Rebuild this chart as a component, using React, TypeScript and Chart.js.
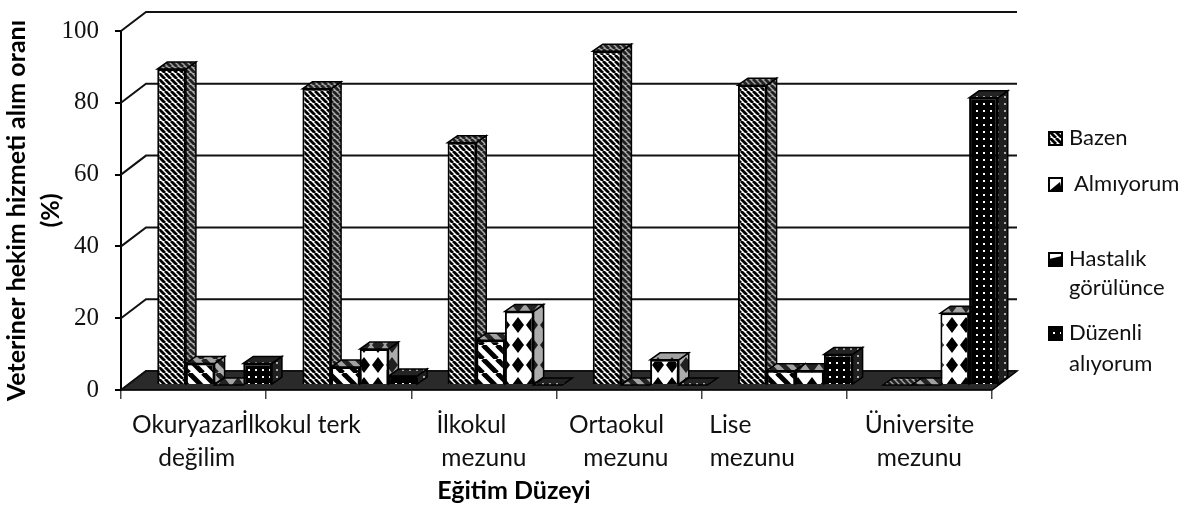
import React, { useEffect, useRef } from "react";
import { Chart, registerables } from "chart.js";

Chart.register(...registerables);

const categories: string[][] = [
  ["Okuryazar", "değilim"],
  ["İlkokul terk"],
  ["İlkokul", "mezunu"],
  ["Ortaokul", "mezunu"],
  ["Lise", "mezunu"],
  ["Üniversite", "mezunu"],
];
// no-break spaces per label line (trailing if positive, leading if negative), matching the off-centre word wrap of the source
const tickPadding: number[][] = [[2, -1], [12, 0], [4, 0], [4, 1], [14, 7], [0, 0]];

const bazen = [88, 82.5, 67.5, 93, 83.5, 0];
const almiyorum = [6, 5, 12.5, 0, 4, 0];
const hastalik = [0, 10, 20.5, 7, 4, 20];
const duzenli = [6, 2.5, 0, 0, 8.5, 80];

const seriesNames = ["Bazen", "Almıyorum", "Hastalık görülünce", "Düzenli alıyorum"];
const yTitleLines = ["Veteriner hekim hizmeti alım oranı", "(%)"];
const xTitle = "Eğitim Düzeyi";

function tile(w: number, h: number, paint: (c: CanvasRenderingContext2D) => void) {
  const cv = document.createElement("canvas");
  cv.width = w;
  cv.height = h;
  const c = cv.getContext("2d")!;
  c.fillStyle = "#fff";
  c.fillRect(0, 0, w, h);
  c.fillStyle = "#000";
  c.strokeStyle = "#000";
  paint(c);
  return cv;
}

function stripes(size: number, lw: number) {
  return tile(size, size, (c) => {
    c.lineWidth = lw;
    for (const o of [-size, 0, size]) {
      c.beginPath();
      c.moveTo(o, 0);
      c.lineTo(o + size, size);
      c.stroke();
    }
  });
}

function diamonds() {
  return tile(14, 20, (c) => {
    c.beginPath();
    c.moveTo(7, 2);
    c.lineTo(13, 10);
    c.lineTo(7, 18);
    c.lineTo(1, 10);
    c.closePath();
    c.fill();
  });
}

function dots() {
  return tile(7, 7, (c) => {
    c.fillRect(0, 0, 7, 7);
    c.fillStyle = "#fff";
    c.fillRect(3, 3, 2, 2);
  });
}

const DEPTH_X = 10;
const DEPTH_Y = -7;
const WALL_X = 25;
const WALL_Y = -19;
const BAR_SHIFT_X = 21;
const BAR_SHIFT_Y = -5;

const scene = {
  id: "scene3d",
  beforeDatasetsDraw(chart: any) {
    const { ctx } = chart;
    const { y, x } = chart.scales;
    const left = x.left;
    const right = x.right;
    ctx.save();
    const y0 = y.getPixelForValue(0);
    ctx.fillStyle = "#2a2a2a";
    ctx.strokeStyle = "#000";
    ctx.lineWidth = 1.5;
    ctx.beginPath();
    ctx.moveTo(left, y0);
    ctx.lineTo(left + WALL_X, y0 + WALL_Y);
    ctx.lineTo(right + WALL_X, y0 + WALL_Y);
    ctx.lineTo(right, y0);
    ctx.closePath();
    ctx.fill();
    ctx.stroke();
    ctx.strokeStyle = "#111";
    ctx.lineWidth = 2;
    for (const t of y.ticks) {
      const py = y.getPixelForValue(t.value);
      ctx.beginPath();
      ctx.moveTo(left, py);
      ctx.lineTo(left + WALL_X, py + WALL_Y);
      ctx.lineTo(right + WALL_X, py + WALL_Y);
      ctx.stroke();
    }
    // depth faces of every bar, left to right, before the chart paints the front faces
    ctx.translate(BAR_SHIFT_X, BAR_SHIFT_Y);
    const face = (pts: number[][], fill: any, shade: string) => {
      ctx.beginPath();
      pts.forEach((p, i) => (i ? ctx.lineTo(p[0], p[1]) : ctx.moveTo(p[0], p[1])));
      ctx.closePath();
      ctx.fillStyle = fill;
      ctx.fill();
      ctx.fillStyle = shade;
      ctx.fill();
      ctx.strokeStyle = "#000";
      ctx.lineWidth = 1.5;
      ctx.stroke();
    };
    const n = chart.data.labels.length;
    for (let c = 0; c < n; c++) {
      chart.data.datasets.forEach((ds: any, d: number) => {
        const el = chart.getDatasetMeta(d).data[c];
        const { x: cx, y: top, base, width } = el.getProps(["x", "y", "base", "width"], true);
        const l = cx - width / 2;
        const r = cx + width / 2;
        if (base - top > 0.5) {
          face(
            [[r, top], [r + DEPTH_X, top + DEPTH_Y], [r + DEPTH_X, base + DEPTH_Y], [r, base]],
            ds.backgroundColor,
            "rgba(70,70,70,0.45)"
          );
        }
        face(
          [[l, top], [l + DEPTH_X, top + DEPTH_Y], [r + DEPTH_X, top + DEPTH_Y], [r, top]],
          ds.backgroundColor,
          "rgba(70,70,70,0.5)"
        );
      });
    }
    ctx.restore();
  },
  beforeDatasetDraw(chart: any) {
    chart.ctx.save();
    chart.ctx.translate(BAR_SHIFT_X, BAR_SHIFT_Y);
  },
  afterDatasetDraw(chart: any) {
    chart.ctx.restore();
  },
  afterDraw(chart: any) {
    const { ctx } = chart;
    const patterns = chart.data.datasets.map((d: any) => d.backgroundColor);
    const swatchY = [138, 184, 259, 333];
    const entries: { x: number; lines: [string, number][] }[] = [
      { x: 1069, lines: [[seriesNames[0], 138]] },
      { x: 1074, lines: [[seriesNames[1], 184]] },
      { x: 1069, lines: [["Hastalık", 259], ["görülünce", 288]] },
      { x: 1069, lines: [["Düzenli", 333], ["alıyorum", 364]] },
    ];
    ctx.save();
    swatchY.forEach((sy, i) => {
      const bx = 1049;
      const by = sy - 6;
      const s = 13;
      ctx.fillStyle = i === 0 || i === 3 ? patterns[i === 0 ? 0 : 3] : "#fff";
      ctx.fillRect(bx, by, s, s);
      if (i === 1 || i === 2) {
        ctx.fillStyle = "#000";
        ctx.beginPath();
        ctx.moveTo(bx, by + s);
        ctx.lineTo(bx + s, by + s);
        ctx.lineTo(i === 1 ? bx + s - 2 : bx + s, by + (i === 1 ? 4 : 3));
        ctx.lineTo(bx, by + (i === 1 ? s : 6));
        ctx.closePath();
        ctx.fill();
      }
      ctx.strokeStyle = "#000";
      ctx.lineWidth = 2;
      ctx.strokeRect(bx, by, s, s);
    });
    ctx.fillStyle = "#111";
    ctx.font = "22px Lato";
    ctx.textBaseline = "middle";
    ctx.textAlign = "left";
    for (const e of entries) for (const [t, ly] of e.lines) ctx.fillText(t, e.x, ly);
    ctx.restore();
  },
};

export default function App() {
  const ref = useRef<HTMLCanvasElement>(null);
  useEffect(() => {
    const ctx = ref.current!.getContext("2d")!;
    const pats = [stripes(6, 2.8), stripes(14, 5), diamonds(), dots()].map(
      (cv) => ctx.createPattern(cv, "repeat")!
    );
    const values = [bazen, almiyorum, hastalik, duzenli];
    const chart = new Chart(ctx, {
      type: "bar",
      data: {
        labels: categories as any,
        datasets: values.map((data, i) => ({
          label: seriesNames[i],
          data,
          backgroundColor: pats[i] as any,
          borderColor: "#000",
          borderWidth: 2,
          clip: false as any,
          categoryPercentage: 0.79,
          barPercentage: 1,
        })),
      },
      options: {
        responsive: false,
        animation: false,
        layout: { padding: { top: 25, right: 198, left: 0, bottom: 0 } },
        plugins: { legend: { display: false }, tooltip: { enabled: false } },
        scales: {
          x: {
            grid: { drawOnChartArea: false, drawTicks: true, tickLength: 9, color: "#444", lineWidth: 1.5, offset: true },
            border: { color: "#777", width: 1.5 },
            ticks: {
              maxRotation: 0,
              autoSkip: false,
              color: "#111",
              padding: 9,
              font: { family: "Lato", size: 24.5, lineHeight: 1.36 },
              callback: (_v: any, i: number) =>
                categories[i].map((line, k) => {
                  const p = tickPadding[i][k] || 0;
                  return p < 0 ? "\u00a0".repeat(-p) + line : line + "\u00a0".repeat(p);
                }),
            },
            title: {
              display: true,
              text: xTitle + "\u00a0".repeat(14),
              color: "#000",
              font: { family: "Lato", size: 25, weight: "bold" },
              padding: { top: 0, bottom: 0 },
            },
            afterFit: (s: any) => {
              s.height = 116;
            },
          },
          y: {
            min: 0,
            max: 100,
            grid: { drawOnChartArea: false, tickLength: 6, color: "#000", lineWidth: 2 },
            border: { color: "#000", width: 2 },
            ticks: {
              stepSize: 20,
              color: "#111",
              padding: 16,
              font: { family: "Liberation Serif", size: 25 },
            },
            title: {
              display: true,
              text: yTitleLines,
              color: "#000",
              font: { family: "Lato", size: 25, weight: "bold", lineHeight: 1.36 },
              padding: { top: 0, bottom: 0 },
            },
            afterFit: (s: any) => {
              s.width = 121;
            },
          },
        },
      },
      plugins: [scene],
    } as any);
    return () => chart.destroy();
  }, []);
  return (
    <div style={{ position: "fixed", left: 0, top: 0, background: "#fff" }}>
      <canvas ref={ref} width={1190} height={506} style={{ display: "block" }} />
    </div>
  );
}
